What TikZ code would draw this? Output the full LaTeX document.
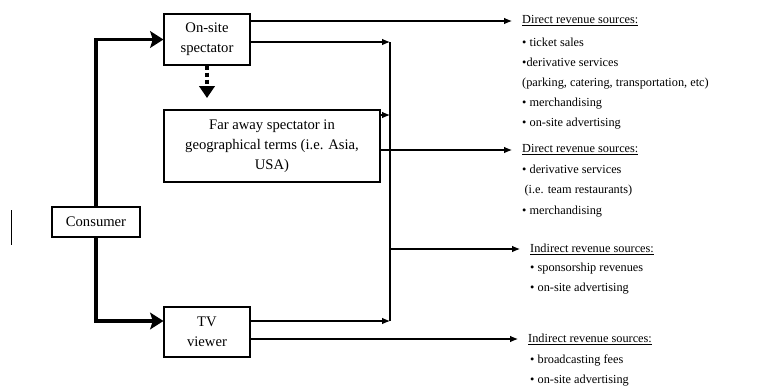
\documentclass[tikz,border=0pt]{standalone}
\usepackage{fontspec}
\setmainfont{Liberation Serif}
\usetikzlibrary{arrows}
\usetikzlibrary{arrows.meta}
\usetikzlibrary{positioning}

\tikzset{
  box/.style={draw, line width=0.9pt, align=center, inner sep=1pt,
    font=\fontsize{12.5}{17}\selectfont},
  feed/.style={-{Latex[length=0.24cm,width=0.2cm]}, line width=0.9pt},
  bus/.style={line width=0.9pt},
  bigfeed/.style={-{Stealth[length=0.4cm,width=0.5cm,inset=0.08cm]}, line width=2.6pt},
  dotfeed/.style={-{Triangle[length=0.36cm,width=0.46cm]}, line width=2.6pt,
    dash pattern=on 0.12cm off 0.09cm},
  head/.style={anchor=west, inner xsep=0.3cm, inner ysep=1pt,
    font=\fontsize{10.5}{13}\selectfont},
  items/.style={anchor=north west, align=left, inner sep=0pt,
    font=\fontsize{10.5}{17}\selectfont},
}

\begin{document}
\begin{tikzpicture}[x=0.03cm,y=-0.03cm]
  \useasboundingbox (0,0) rectangle (778,385);

  % the four boxes
  \node[box, minimum width=2.58cm, minimum height=1.53cm] (onsite) at (207,39.5) {On-site\\spectator};
  \node[box, minimum width=6.48cm, minimum height=2.16cm] (far) at (272,146)
    {Far away spectator in\\geographical terms (i.e. Asia,\\USA)};
  \node[box, minimum width=2.64cm, minimum height=0.9cm] (consumer) at (96,222) {Consumer};
  \node[box, minimum width=2.58cm, minimum height=1.5cm] (tv) at (207,332) {TV\\viewer};

  % revenue texts
  \node[head] (dir1) at (512,21) {\underline{Direct revenue sources:}};
  \node[items] (dir1list) at (522,38)
    {\textbullet\ ticket sales\\
     \textbullet derivative services\\
     (parking, catering, transportation, etc)\\
     \textbullet\ merchandising\\
     \textbullet\ on-site advertising};
  \node[head] (dir2) at (512,150) {\underline{Direct revenue sources:}};
  \node[items] (dir2list) at (522,165)
    {\textbullet\ derivative services\\
     \hspace{2pt}(i.e. team restaurants)\\[1pt]
     \textbullet\ merchandising};
  \node[head] (ind1) at (520,249) {\underline{Indirect revenue sources:}};
  \node[items] (ind1list) at (530,263)
    {\textbullet\ sponsorship revenues\\
     \textbullet\ on-site advertising};
  \node[head] (ind2) at (518,339) {\underline{Indirect revenue sources:}};
  \node[items] (ind2list) at (530,355)
    {\textbullet\ broadcasting fees\\
     \textbullet\ on-site advertising};

  % points on the collecting line
  \coordinate (bustop) at (390,42);
  \coordinate (busfar) at (390,115);
  \coordinate (busbot) at (390,321);
  \coordinate (busmid) at (bustop |- ind1.west);
  \coordinate (dotend) at (207,98);

  % consumer split
  \draw[bigfeed] (consumer.north) |- (onsite.west);
  \draw[bigfeed] (consumer.south) |- ([yshift=0.33cm]tv.west);
  \draw[dotfeed] (onsite.south) -- (dotend);

  % direct lines
  \draw[feed] (onsite.east |- dir1.west) -- (dir1.west);
  \draw[feed] (far.east |- dir2.west) -- (dir2.west);
  \draw[feed] (tv.east |- ind2.west) -- (ind2.west);

  % collecting line
  \draw[feed] (onsite.east |- bustop) -- (bustop);
  \draw[feed] (far.east |- busfar) -- (busfar);
  \draw[feed] (tv.east |- busbot) -- (busbot);
  \draw[bus] (bustop) -- (busbot);
  \draw[feed] (busmid) -- (ind1.west);

  \draw[line width=0.8pt] (11,210) -- (11,245);
\end{tikzpicture}
\end{document}
